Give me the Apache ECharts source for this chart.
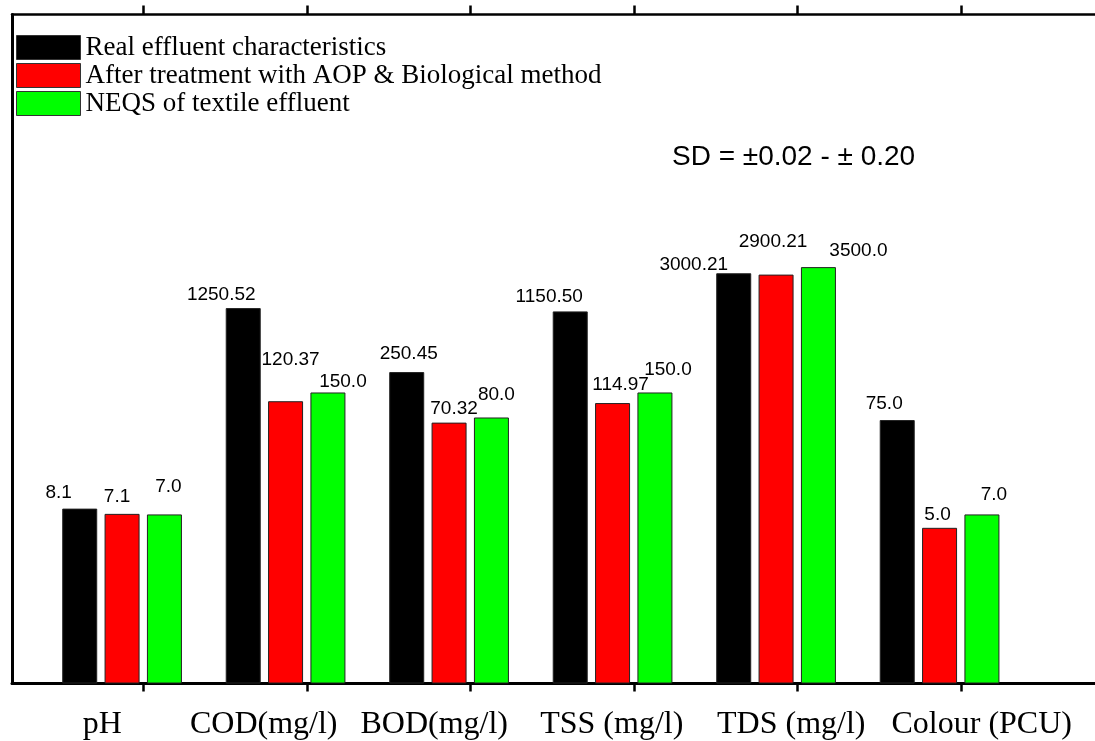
<!DOCTYPE html>
<html>
<head>
<meta charset="utf-8">
<script src="https://cdn.jsdelivr.net/npm/echarts@6/dist/echarts.min.js"></script>
<style>
html,body{margin:0;padding:0;background:#fff;}
#chart{width:1095px;height:741px;}
</style>
</head>
<body>
<div id="chart"></div>
<script>
// ---- data ----
const categories = ['pH', 'COD(mg/l)', 'BOD(mg/l)', 'TSS (mg/l)', 'TDS (mg/l)', 'Colour (PCU)'];
const seriesNames = ['Real effluent characteristics', 'After treatment with AOP & Biological method', 'NEQS of textile effluent'];
const realValues = [8.1, 1250.52, 250.45, 1150.50, 3000.21, 75.0];
const treatedValues = [7.1, 120.37, 70.32, 114.97, 2900.21, 5.0];
const neqsValues = [7.0, 150.0, 80.0, 150.0, 3500.0, 7.0];
const realLabels = ['8.1', '1250.52', '250.45', '1150.50', '3000.21', '75.0'];
const treatedLabels = ['7.1', '120.37', '70.32', '114.97', '2900.21', '5.0'];
const neqsLabels = ['7.0', '150.0', '80.0', '150.0', '3500.0', '7.0'];
const sdNote = 'SD = \u00b10.02 - \u00b1 0.20';

// ---- layout tweaks (label nudges, not data) ----
const realNudge = [[-21, -6], [-22, -4], [2, -9], [-21, -5], [-40, 1], [-13, -7]];
const treatedNudge = [[-5, -8], [5, -32], [5, -4], [8, -9], [-3, -23], [-2, -4]];
const neqsNudge = [[4, -18], [15, -1], [5, -13], [13, -13], [40, -7], [12, -10]];
const catLabelShift = [-41, -43, -36, -22, -6, 21];

const colors = ['#000000', '#ff0000', '#00ff00'];

function buildData(values, labels, nudges) {
  return values.map((v, i) => ({
    value: v,
    label: { formatter: labels[i], offset: nudges[i] }
  }));
}

const rich = {};
catLabelShift.forEach((s, i) => {
  rich['c' + i] = {
    fontFamily: 'Liberation Serif',
    fontSize: 32,
    color: '#000',
    padding: s < 0 ? [0, -2 * s, 0, 0] : [0, 0, 0, 2 * s]
  };
});

const barLabel = {
  show: true,
  position: 'top',
  distance: 0,
  fontFamily: 'Liberation Sans',
  fontSize: 19,
  color: '#000'
};

function barSeries(name, color, data) {
  return {
    name: name,
    type: 'bar',
    xAxisIndex: 2,
    yAxisIndex: 1,
    barWidth: 35,
    barGap: '21%',
    itemStyle: { color: color, borderColor: '#222', borderWidth: 1 },
    label: barLabel,
    emphasis: { disabled: true },
    data: data
  };
}

const chart = echarts.init(document.getElementById('chart'));
chart.setOption({
  animation: false,
  backgroundColor: '#fff',
  grid: [
    { left: 12, top: 14.5, right: -40, bottom: 57.5 },
    { left: 61.5, top: 14.5, right: 52.5, bottom: 57.5 }
  ],
  legend: {
    data: seriesNames,
    orient: 'vertical',
    left: 16,
    top: 34,
    padding: 0,
    itemWidth: 64,
    itemHeight: 24,
    itemGap: 1,
    icon: 'rect',
    itemStyle: { borderColor: '#333', borderWidth: 1 },
    selectedMode: false,
    textStyle: { fontFamily: 'Liberation Serif', fontSize: 27, color: '#000', lineHeight: 24 }
  },
  xAxis: [
    { gridIndex: 0, type: 'value', position: 'bottom', min: 0, max: 1,
      axisLine: { show: true, lineStyle: { color: '#000', width: 3 } },
      axisTick: { show: false }, axisLabel: { show: false }, splitLine: { show: false } },
    { gridIndex: 0, type: 'value', position: 'top', min: 0, max: 1,
      axisLine: { show: true, lineStyle: { color: '#000', width: 2.5 } },
      axisTick: { show: false }, axisLabel: { show: false }, splitLine: { show: false } },
    { gridIndex: 1, type: 'category', position: 'bottom', data: categories,
      axisLine: { show: false },
      axisTick: { show: true, alignWithLabel: true, length: 8, lineStyle: { color: '#000', width: 2.5 } },
      axisLabel: {
        show: true, margin: 25, interval: 0,
        formatter: (val, idx) => '{c' + idx + '|' + val + '}',
        rich: rich
      } },
    { gridIndex: 1, type: 'category', position: 'top', data: categories,
      axisLine: { show: false },
      axisTick: { show: true, alignWithLabel: true, length: 9, lineStyle: { color: '#000', width: 2.5 } },
      axisLabel: { show: false } }
  ],
  yAxis: [
    { gridIndex: 0, type: 'log', logBase: 10, min: 0.1, max: 2000000,
      axisLine: { show: true, lineStyle: { color: '#000', width: 3 } },
      axisTick: { show: false }, axisLabel: { show: false }, splitLine: { show: false } },
    { gridIndex: 1, type: 'log', logBase: 10, min: 0.1, max: 2000000, startValue: 0.1,
      axisLine: { show: false }, axisTick: { show: false },
      axisLabel: { show: false }, splitLine: { show: false } }
  ],
  graphic: [
    { type: 'text', left: 672, top: 143,
      style: { text: sdNote, font: '28px "Liberation Sans"', fill: '#000' } }
  ],
  series: [
    barSeries(seriesNames[0], colors[0], buildData(realValues, realLabels, realNudge)),
    barSeries(seriesNames[1], colors[1], buildData(treatedValues, treatedLabels, treatedNudge)),
    barSeries(seriesNames[2], colors[2], buildData(neqsValues, neqsLabels, neqsNudge)),
    { name: 'spacer', type: 'bar', xAxisIndex: 2, yAxisIndex: 1, barWidth: 35, barGap: '21%',
      data: categories.map(() => '-'), silent: true }
  ]
});
</script>
</body>
</html>
